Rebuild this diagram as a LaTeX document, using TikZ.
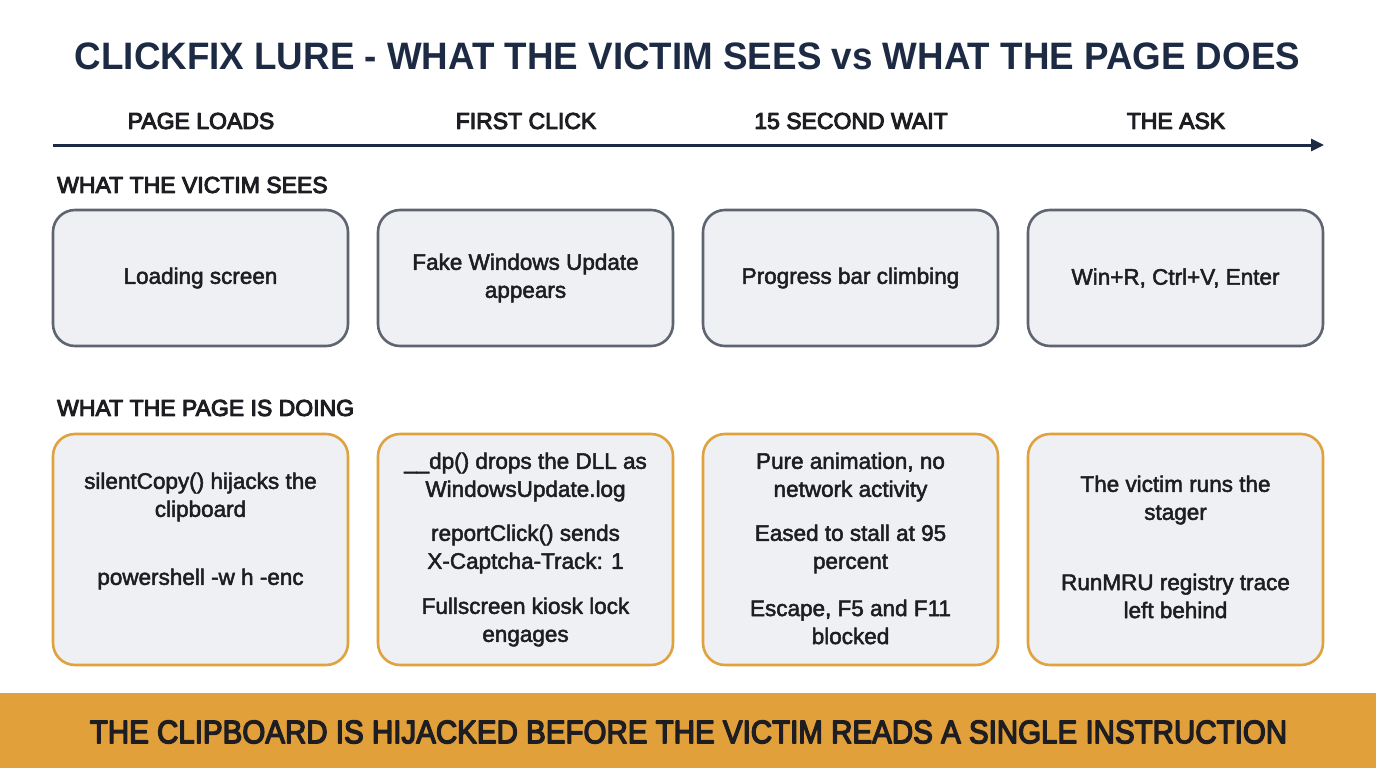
\documentclass[tikz,border=0pt]{standalone}
\usepackage{fontspec}
\setmainfont{Liberation Sans}
\newcommand\thick[2]{\special{pdf:literal direct 2 Tr #1 w 1 j}#2\special{pdf:literal direct 0 Tr}}
\usetikzlibrary{arrows.meta}
\definecolor{navy}{HTML}{1C2A44}
\definecolor{ink}{HTML}{1E1E22}
\definecolor{graybd}{HTML}{5E6570}
\definecolor{boxfill}{HTML}{EEF0F4}
\definecolor{orangebd}{HTML}{E0A23C}
\definecolor{banner}{HTML}{E2A03B}
\tikzset{
  seebox/.style={draw=graybd, line width=2.6pt, fill=boxfill, rounded corners=22pt, minimum width=295pt, minimum height=136pt, inner sep=0pt},
  dobox/.style={draw=orangebd, line width=2.6pt, fill=boxfill, rounded corners=22pt, minimum width=295pt, minimum height=231pt, inner sep=0pt},
  bt/.style={text=ink, align=center, inner sep=0pt, font=\fontsize{22.5}{28}\selectfont},
  phase/.style={text=ink, inner sep=0pt, font=\fontsize{23}{26}\selectfont},
  rowlab/.style={text=ink, inner sep=0pt, anchor=west, font=\fontsize{23}{26}\selectfont},
}
\begin{document}
\begin{tikzpicture}[x=1pt,y=-1pt]
\useasboundingbox (0,0) rectangle (1376,768);
\fill[white] (0,0) rectangle (1376,768);
\node[text=navy, inner sep=0pt] (title) at (687.5,56) {\resizebox{1225pt}{26.7pt}{\bfseries CLICKFIX LURE - WHAT THE VICTIM SEES vs WHAT THE PAGE DOES}};
% timeline
\coordinate (tl0) at (53,145);
\coordinate (tl1) at (1324,145);
\draw[navy, line width=3pt, -{Triangle[length=13pt,width=12pt]}] (tl0) -- (tl1);
\node[phase] (p1) at (201,121) {\thick{1.0}{PAGE LOADS}};
\node[phase] (p2) at (526,121) {\thick{1.0}{FIRST CLICK}};
\node[phase] (p3) at (851,121) {\thick{1.0}{15 SECOND WAIT}};
\node[phase] (p4) at (1176,121) {\thick{1.0}{THE ASK}};
% row 1
\node[rowlab] (r1) at (57,185) {\thick{1.0}{WHAT THE VICTIM SEES}};
\node[seebox] (s1) at (200.5,278) {};
\node[seebox] (s2) at (525.5,278) {};
\node[seebox] (s3) at (850.5,278) {};
\node[seebox] (s4) at (1175.5,278) {};
\node[bt] at (s1) {\thick{0.5}{Loading screen}};
\node[bt] at (s2) {\thick{0.5}{Fake Windows Update}\\\thick{0.5}{appears}};
\node[bt] at (s3) {\thick{0.5}{Progress bar climbing}};
\node[bt] at (s4) {\thick{0.5}{Win+R, Ctrl+V, Enter}};
% row 2
\node[rowlab] (r2) at (57,408) {\thick{1.0}{WHAT THE PAGE IS DOING}};
\node[dobox] (d1) at (200.5,549.5) {};
\node[dobox] (d2) at (525.5,549.5) {};
\node[dobox] (d3) at (850.5,549.5) {};
\node[dobox] (d4) at (1175.5,549.5) {};
\node[bt] (d1a) at (200.5,497) {\thick{0.5}{silentCopy() hijacks the}\\\thick{0.5}{clipboard}};
\node[bt] (d1b) at (200.5,579) {\thick{0.5}{powershell -w h -enc}};
\node[bt] (d2a) at (525.5,477) {\thick{0.5}{\_\_dp() drops the DLL as}\\\thick{0.5}{WindowsUpdate.log}};
\node[bt] (d2b) at (525.5,549) {\thick{0.5}{reportClick() sends}\\\thick{0.5}{X-Captcha-Track: 1}};
\node[bt] (d2c) at (525.5,622) {\thick{0.5}{Fullscreen kiosk lock}\\\thick{0.5}{engages}};
\node[bt] (d3a) at (850.5,477) {\thick{0.5}{Pure animation, no}\\\thick{0.5}{network activity}};
\node[bt] (d3b) at (850.5,549) {\thick{0.5}{Eased to stall at 95}\\\thick{0.5}{percent}};
\node[bt] (d3c) at (850.5,622) {\thick{0.5}{Escape, F5 and F11}\\\thick{0.5}{blocked}};
\node[bt] (d4a) at (1175.5,500) {\thick{0.5}{The victim runs the}\\\thick{0.5}{stager}};
\node[bt] (d4b) at (1175.5,596) {\thick{0.5}{RunMRU registry trace}\\\thick{0.5}{left behind}};
% banner
\fill[banner] (0,693) rectangle (1376,768);
\node[text=ink, inner sep=0pt] (msg) at (688.5,732) {\resizebox{1197pt}{22.7pt}{\thick{0.45}{THE CLIPBOARD IS HIJACKED BEFORE THE VICTIM READS A SINGLE INSTRUCTION}}};
\end{tikzpicture}
\end{document}
